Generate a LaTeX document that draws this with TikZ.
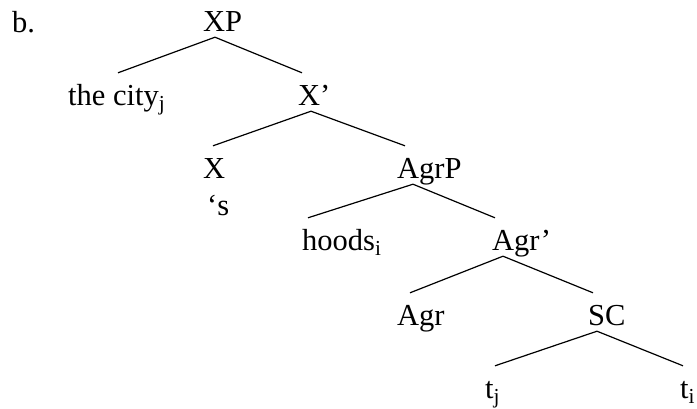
\documentclass[tikz,border=0pt]{standalone}
\usepackage{fontspec}
\setmainfont{Liberation Serif}
\usetikzlibrary{positioning}

\begin{document}
\begin{tikzpicture}[
    x=1pt, y=-1pt,
    every node/.style={font=\fontsize{30.5}{36}\selectfont},
    cat/.style={inner sep=0pt, anchor=base west, text height=32pt, text depth=6pt},
    branch/.style={line width=1.2pt}
]
\useasboundingbox (0,0) rectangle (697,408);
% Example label
\node[cat] (lab) at (12, 32) {b.};
% Row 0
\node[cat] (xp) at (203, 31) {XP};
% Row 1
\node[cat] (cityj) at (68, 105) {the city\textsubscript{j}};
\node[cat] (xbar) at (298, 105) {X’};
% Row 2
\node[cat] (x) at (203, 178) {X};
\node[cat] (poss) at (207, 215) {‘s};
\node[cat] (agrp) at (397, 178) {AgrP};
% Row 3
\node[cat] (hoods) at (302, 250) {hoods\textsubscript{i}};
\node[cat] (agrbar) at (492, 250) {Agr’};
% Row 4
\node[cat] (agr) at (397, 325) {Agr};
\node[cat] (sc) at (588, 325) {SC};
% Row 5
\node[cat] (tj) at (485, 398) {t\textsubscript{j}};
\node[cat] (ti) at (680, 398) {t\textsubscript{i}};
% Branches: parent/child/offset at parent/offset at child
\foreach \p/\c/\a/\b in {xp/cityj/12/50, xp/xbar/12/4,
        xbar/x/13/10, xbar/agrp/13/8,
        agrp/hoods/16/6, agrp/agrbar/16/3,
        agrbar/agr/11/13, agrbar/sc/11/5,
        sc/tj/9/10, sc/ti/9/3} {
    \draw[branch] ([xshift=\a pt]\p.south west) -- ([xshift=\b pt]\c.north west);
}
\end{tikzpicture}
\end{document}
